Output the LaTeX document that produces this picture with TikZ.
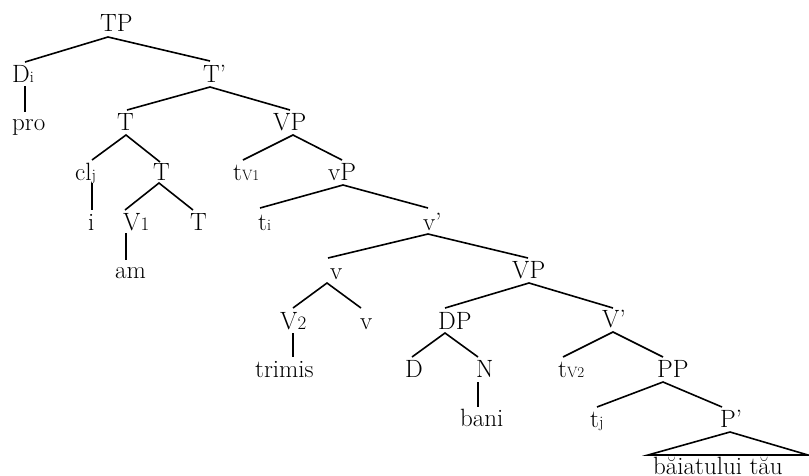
\documentclass[tikz,border=0pt]{standalone}
\usepackage{fontspec}
\newcommand{\mysub}[2][16]{{\fontsize{#1}{#1}\selectfont #2}}
\tikzset{
  lab/.style={anchor=base west, inner sep=0pt, font=\fontsize{25}{30}\selectfont},
  branch/.style={line width=1.6pt, line join=miter},
}
\begin{document}
\begin{tikzpicture}[x=1pt,y=-1pt]
\useasboundingbox (0,0) rectangle (809,475);
% ---------- labels ----------
\node[lab] (TP)    at (100,31)  {TP};
\node[lab] (Di)    at (12,82)   {D\mysub{i}};
\node[lab] (Tbar)  at (203,82)  {T'};
\node[lab] (pro)   at (12,130)  {pro};
\node[lab] (T1)    at (117,130) {T};
\node[lab] (VP1)   at (273,130) {VP};
\node[lab] (clj)   at (75,180)  {cl\mysub{j}};
\node[lab] (T2)    at (153,180) {T};
\node[lab] (tV1)   at (233,180) {t\mysub[15]{V1}};
\node[lab] (vP)    at (328,180) {vP};
\node[lab] (i)     at (88,230)  {i};
\node[lab] (V1)    at (123,230) {V\mysub[19]{1}};
\node[lab] (T3)    at (190,230) {T};
\node[lab] (ti)    at (258,230) {t\mysub{i}};
\node[lab] (vbar)  at (423,230) {v'};
\node[lab] (am)    at (115,278) {am};
\node[lab] (v1)    at (330,279) {v};
\node[lab] (VP2)   at (512,278) {VP};
\node[lab] (V2)    at (280,329) {V\mysub[19]{2}};
\node[lab] (v2)    at (360,329) {v};
\node[lab] (DP)    at (438,329) {DP};
\node[lab] (Vbar)  at (602,327) {V'};
\node[lab] (trimis) at (255,377) {trimis};
\node[lab] (D)     at (405,377) {D};
\node[lab] (N)     at (476,377) {N};
\node[lab] (tV2)   at (558,377) {t\mysub[15]{V2}};
\node[lab] (PP)    at (657,377) {PP};
\node[lab] (bani)  at (460,426) {bani};
\node[lab] (tj)    at (590,427) {t\mysub{j}};
\node[lab] (Pbar)  at (720,427) {P'};
\node[lab] (bt)    at (653,474) {băiatului tău};
% ---------- attachment points ----------
\coordinate (TP-b)   at (108,37);
\coordinate (Di-t)   at (25,62);
\coordinate (Tbar-t) at (210,61);
\coordinate (Di-b)   at (25,86);
\coordinate (pro-t)  at (25,112);
\coordinate (Tbar-b) at (210,87);
\coordinate (T1-t)   at (127,110);
\coordinate (VP1-t)  at (290,110);
\coordinate (T1-b)   at (126,135);
\coordinate (clj-t)  at (92,160);
\coordinate (T2-t)   at (160,162);
\coordinate (VP1-b)  at (293,135);
\coordinate (tV1-t)  at (243,160);
\coordinate (vP-t)   at (342,160);
\coordinate (clj-b)  at (92,183);
\coordinate (i-t)    at (92,210);
\coordinate (T2-b)   at (159,183);
\coordinate (V1-t)   at (125,210);
\coordinate (T3-t)   at (193,210);
\coordinate (vP-b)   at (343,185);
\coordinate (ti-t)   at (260,208);
\coordinate (vbar-t) at (428,208);
\coordinate (V1-b)   at (126,233);
\coordinate (am-t)   at (126,260);
\coordinate (vbar-b) at (428,234);
\coordinate (v1-t)   at (328,258);
\coordinate (VP2-t)  at (528,258);
\coordinate (v1-b)   at (327,283);
\coordinate (V2-t)   at (293,308);
\coordinate (v2-t)   at (361,308);
\coordinate (VP2-b)  at (529,283);
\coordinate (DP-t)   at (445,308);
\coordinate (Vbar-t) at (613,308);
\coordinate (V2-b)   at (293,333);
\coordinate (trimis-t) at (293,357);
\coordinate (DP-b)   at (445,333);
\coordinate (D-t)    at (412,357);
\coordinate (N-t)    at (478,357);
\coordinate (Vbar-b) at (613,332);
\coordinate (tV2-t)  at (563,357);
\coordinate (PP-t)   at (663,357);
\coordinate (N-b)    at (478,382);
\coordinate (bani-t) at (478,407);
\coordinate (PP-b)   at (663,382);
\coordinate (tj-t)   at (597,407);
\coordinate (Pbar-t) at (722,407);
\coordinate (Pbar-b) at (730,432);
\coordinate (bt-l)   at (648,455);
\coordinate (bt-r)   at (808,455);
% ---------- branches ----------
\draw[branch] (Di-t) -- (TP-b) -- (Tbar-t);
\draw[branch] (Di-b) -- (pro-t);
\draw[branch] (T1-t) -- (Tbar-b) -- (VP1-t);
\draw[branch] (clj-t) -- (T1-b) -- (T2-t);
\draw[branch] (tV1-t) -- (VP1-b) -- (vP-t);
\draw[branch] (clj-b) -- (i-t);
\draw[branch] (V1-t) -- (T2-b) -- (T3-t);
\draw[branch] (ti-t) -- (vP-b) -- (vbar-t);
\draw[branch] (V1-b) -- (am-t);
\draw[branch] (v1-t) -- (vbar-b) -- (VP2-t);
\draw[branch] (V2-t) -- (v1-b) -- (v2-t);
\draw[branch] (DP-t) -- (VP2-b) -- (Vbar-t);
\draw[branch] (V2-b) -- (trimis-t);
\draw[branch] (D-t) -- (DP-b) -- (N-t);
\draw[branch] (tV2-t) -- (Vbar-b) -- (PP-t);
\draw[branch] (N-b) -- (bani-t);
\draw[branch] (tj-t) -- (PP-b) -- (Pbar-t);
\draw[branch] (Pbar-b) -- (bt-l) -- (bt-r) -- cycle;
\end{tikzpicture}
\end{document}
